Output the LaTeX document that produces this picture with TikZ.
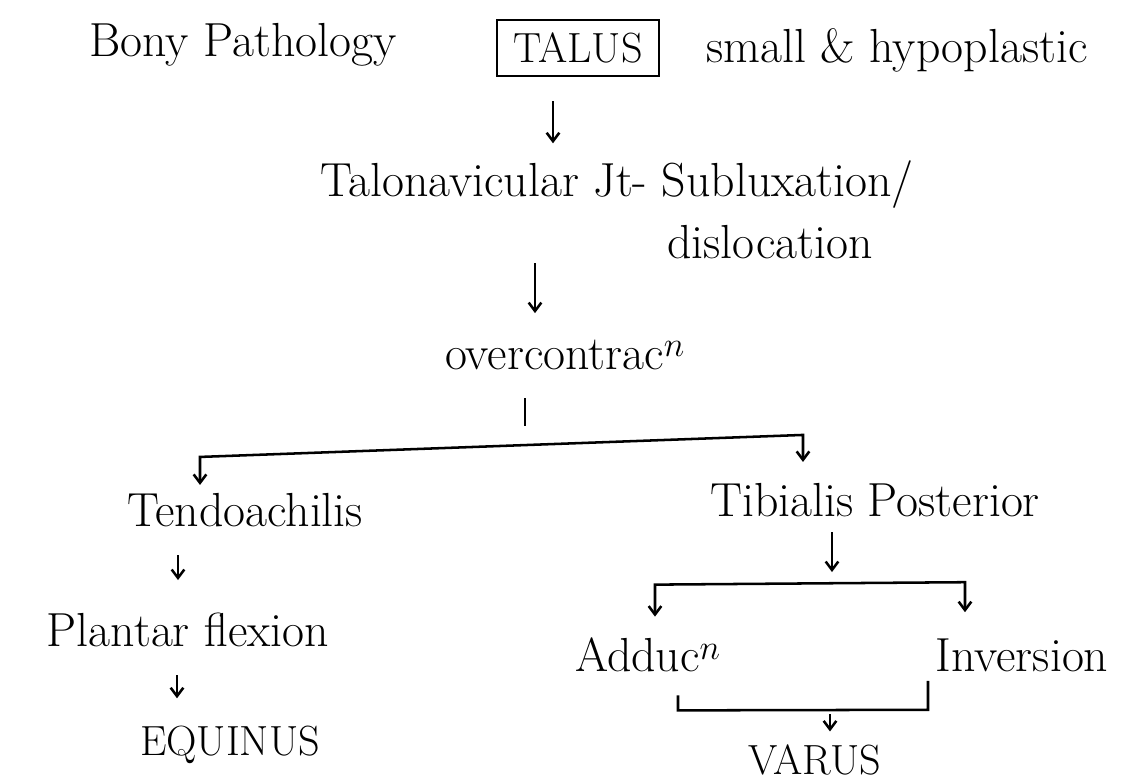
\documentclass[tikz,border=0pt]{standalone}
\usetikzlibrary{positioning, arrows.meta, calc}

\begin{document}
\begin{tikzpicture}[
  x=0.025cm, y=-0.025cm,
  % --- Style definitions ---
  txt/.style={inner sep=0pt, font=\fontsize{34}{40}\selectfont},
  caps/.style={inner sep=0pt, font=\fontsize{30}{36}\selectfont},
  boxed/.style={draw, line width=1.8pt, minimum width=4.05cm, minimum height=1.4cm,
                inner sep=0pt, font=\fontsize{30}{36}\selectfont},
  arr/.style={-{Straight Barb[length=6pt, width=9pt]}, line width=1.8pt},
  barr/.style={{Straight Barb[length=6pt, width=9pt]}-{Straight Barb[length=6pt, width=9pt]},
               line width=1.8pt},
  brk/.style={line width=1.8pt},
]
\useasboundingbox (0,0) rectangle (1126,781);

% ===== Nodes =====

% --- Top row ---
\node[txt] (bony) at (243,45) {Bony Pathology};
\node[boxed] (talus) at (578,48) {TALUS};
\node[txt] (small) at (897,50) {small \& hypoplastic};

% --- Joint and muscles ---
\node[txt] (talonav) at (617,185) {Talonavicular Jt- Subluxation/};
\node[txt] (disloc) at (770,242) {dislocation};
\node[txt] (overc) at (565,355) {overcontrac$^{n}$};

% --- Left branch ---
\node[txt] (tendo) at (245,510) {Tendoachilis};
\node[txt] (plantar) at (188,630) {Plantar flexion};
\node[caps] (equinus) at (230,745) {EQUINUS};

% --- Right branch ---
\node[txt] (tibpost) at (875,500) {Tibialis Posterior};
\node[txt] (adduc) at (648,655) {Adduc$^{n}$};
\node[txt] (inver) at (1022,655) {Inversion};
\node[caps] (varus) at (815,760) {VARUS};

% ===== Arrows =====

% main trunk
\draw[arr] ($(talus.south)+(-25,24)$) -- ++(0,42);
\draw[arr] ($(talonav.south)+(-82,54)$) -- ++(0,50);
\draw[brk] ($(overc.south)+(-40,28)$) -- ++(0,28);

% split into the two tendons
\draw[barr] ($(tendo.north)+(-45,-8)$) -- ++(0,-28) -- ($(tibpost.north)+(-72,-48)$) -- ++(0,27);

% left branch
\draw[arr] ($(tendo.south)+(-67,28)$) -- ++(0,25);
\draw[arr] ($(plantar.south)+(-11,28)$) -- ++(0,23);

% right branch
\draw[arr] ($(tibpost.south)+(-43,15)$) -- ++(0,40);
\draw[barr] ($(adduc.north)+(7,-21)$) -- ++(0,-32) -- ($(inver.north)+(-57,-56)$) -- ++(0,30);

% both deformities give varus
\draw[brk] ($(adduc.south)+(30,23)$) -- ++(0,15) -- ($(inver.south)+(-94,38)$) -- ++(0,-29);
\draw[arr] ($(varus.north)+(15,-30)$) -- ++(0,17);

\end{tikzpicture}
\end{document}
